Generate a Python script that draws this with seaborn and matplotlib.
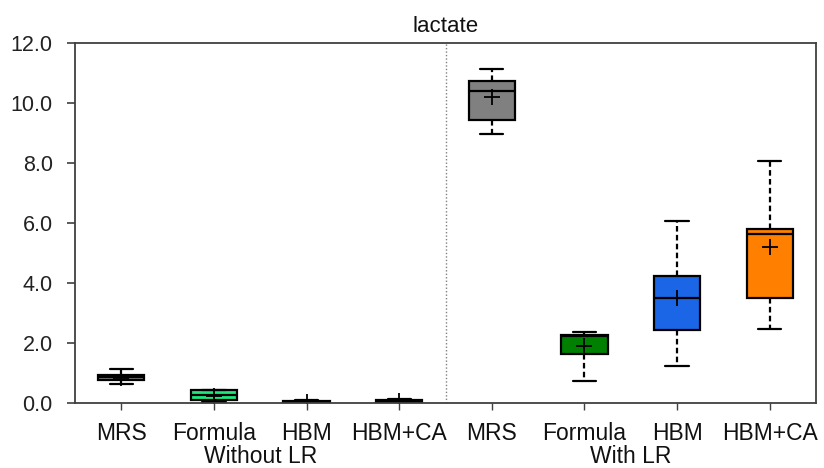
import numpy as np
import pandas as pd
import matplotlib
matplotlib.use("Agg")
import matplotlib.pyplot as plt
import seaborn as sns

# ---- data ----
media = ["MRS", "Formula", "HBM", "HBM+CA", "MRS", "Formula", "HBM", "HBM+CA"]
conditions = ["Without LR"] * 4 + ["With LR"] * 4
# five-number summaries: lower whisker, Q1, median, Q3, upper whisker
whisk_lo = [0.62, 0.03, 0.00, 0.00, 8.97, 0.73, 1.24, 2.48]
q1       = [0.77, 0.10, 0.02, 0.02, 9.42, 1.64, 2.43, 3.50]
median   = [0.86, 0.27, 0.04, 0.06, 10.41, 2.22, 3.51, 5.62]
q3       = [0.94, 0.42, 0.07, 0.10, 10.72, 2.27, 4.22, 5.81]
whisk_hi = [1.14, 0.42, 0.10, 0.12, 11.13, 2.37, 6.08, 8.08]
means    = [0.85, 0.25, 0.05, 0.06, 10.19, 1.91, 3.51, 5.19]
colors   = ["#808080", "#1de97b", "#1a66e6", "#ff8000",
            "#808080", "#008000", "#1a66e6", "#ff8000"]

keys = [f"{c}|{m}" for c, m in zip(conditions, media)]
rows = []
for k, a, b, c, d, e in zip(keys, whisk_lo, q1, median, q3, whisk_hi):
    for v in (a, b, c, d, e):
        rows.append({"key": k, "value": v})
df = pd.DataFrame(rows)
mdf = pd.DataFrame({"key": keys, "mean": means})
palette = dict(zip(keys, colors))

sns.set_theme(style="white")
plt.rcParams["font.family"] = ["Liberation Sans", "DejaVu Sans"]

fig = plt.figure(figsize=(8.24, 4.68), dpi=100)
ax = fig.add_axes([75 / 824, 1 - 403 / 468, (816 - 75) / 824, (403 - 43) / 468])

sns.boxplot(data=df, x="key", y="value", hue="key", order=keys, hue_order=keys,
            palette=palette, legend=False, whis=(0, 100), width=0.5,
            linecolor="black", linewidth=1.6, saturation=1, ax=ax,
            whiskerprops={"linestyle": (0, (2.5, 1.5))},
            capprops={"linestyle": "-"}, medianprops={"color": "black"})
sns.pointplot(data=mdf, x="key", y="mean", order=keys, linestyle="none",
              marker="+", markersize=11, markeredgewidth=1.3, color="black",
              errorbar=None, ax=ax)

ax.set_xlim(-0.5, 7.5)
ax.set_ylim(0, 12)
ax.set_yticks(np.arange(0, 12.1, 2))
ax.set_yticklabels([f"{v:.1f}" for v in np.arange(0, 12.1, 2)])
ax.set_xticks(range(len(keys)))
ax.set_xticklabels(media)
ax.axvline(3.5, color="#808080", linestyle=(0, (1, 1.5)), linewidth=1)

for s in ax.spines.values():
    s.set_color("#404040")
    s.set_linewidth(1.3)
ax.tick_params(axis="y", direction="out", length=6, width=1.2, color="#404040",
               labelsize=15.5, left=True, pad=10, labelcolor="#222222")
ax.tick_params(axis="x", direction="out", length=5, width=1, color="#404040",
               labelsize=16.5, bottom=True, pad=9, labelcolor="#111111")
ax.set_xlabel("")
ax.set_ylabel("")
ax.set_title("lactate", fontsize=16, pad=8, color="#111111")

for lab, pos in (("Without LR", 1.5), ("With LR", 5.5)):
    ax.text(pos, -0.118, lab, transform=ax.get_xaxis_transform(),
            ha="center", va="top", fontsize=16.5, color="#111111")

fig.savefig("out.png", dpi=100)
